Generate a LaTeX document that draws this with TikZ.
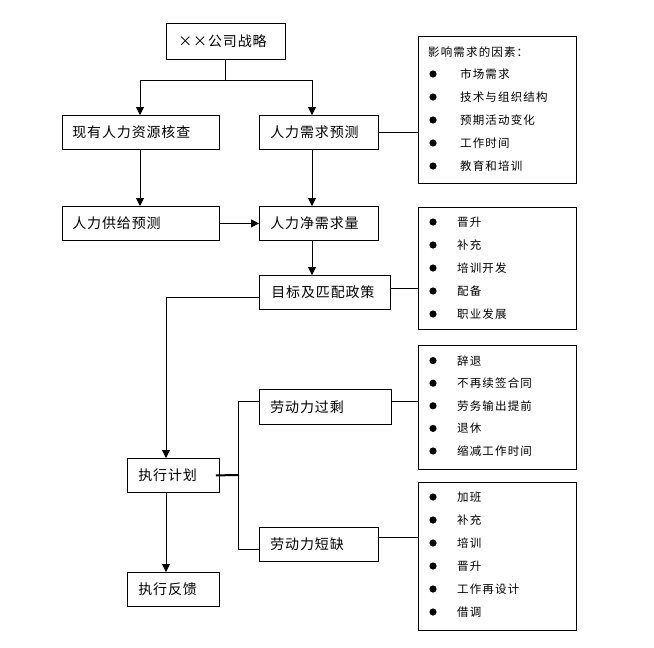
\documentclass[tikz,border=0pt]{standalone}
\usepackage{fontspec}
\setmainfont{Noto Sans CJK SC}
\usetikzlibrary{arrows.meta}
\tikzset{
  every node/.style={font=\fontsize{14}{16}\selectfont\addfontfeatures{LetterSpace=6}},
  box/.style={draw, line width=0.8pt, anchor=north west, inner xsep=10pt, inner ysep=0pt, minimum height=34pt, align=left},
  listbox/.style={draw, line width=0.8pt, anchor=north west, inner sep=0pt},
  item/.style={anchor=west, inner sep=0pt, font=\fontsize{11.5}{13}\selectfont\addfontfeatures{LetterSpace=10}},
  conn/.style={line width=0.8pt},
  arr/.style={line width=0.8pt, -{Triangle[width=8pt,length=8pt]}},
  dot/.style={fill=black}
}
\begin{document}
\begin{tikzpicture}[x=1pt,y=-1pt]
\useasboundingbox (0,0) rectangle (654,648);
% main boxes (width = text width + 20)
\node[box, text width=99pt, minimum height=36pt, inner xsep=12pt, text width=95pt] (top) at (166,23) {××公司战略};
\node[box, text width=137pt] (xy) at (62,115) {现有人力资源核查};
\node[box, inner xsep=11pt, text width=97pt] (xq) at (259,115) {人力需求预测};
\node[box, text width=137pt] (gj) at (62,206) {人力供给预测};
\node[box, inner xsep=11pt, text width=97pt] (jx) at (259,206) {人力净需求量};
\node[box, inner xsep=12pt, text width=107pt] (mb) at (259,275) {目标及匹配政策};
\node[box, inner xsep=11pt, text width=110pt, minimum height=35pt] (gs) at (259,389) {劳动力过剩};
\node[box, inner xsep=11pt, text width=70pt] (zx) at (127,458) {执行计划};
\node[box, inner xsep=11pt, text width=97pt] (dq) at (259,527) {劳动力短缺};
\node[box, inner xsep=11pt, text width=70pt] (fk) at (127,572) {执行反馈};
% list boxes
\node[listbox, minimum width=158pt, minimum height=147pt] (L1) at (418,36) {};
\node[listbox, minimum width=158pt, minimum height=122pt] (L2) at (418,207) {};
\node[listbox, minimum width=158pt, minimum height=124pt] (L3) at (418,345) {};
\node[listbox, minimum width=158pt, minimum height=148pt] (L4) at (418,482) {};
\node[item] (h1) at (428,52) {影响需求的因素：};
\foreach \t [count=\i] in {市场需求,技术与组织结构,预期活动变化,工作时间,教育和培训}{
  \fill[dot] (433,{51+23*\i}) circle (3.6);
  \node[item] (a\i) at (460,{51+23*\i}) {\t};
}
\foreach \t [count=\i] in {晋升,补充,培训开发,配备,职业发展}{
  \fill[dot] (433,{199+23*\i}) circle (3.6);
  \node[item] (b\i) at (457,{199+23*\i}) {\t};
}
\foreach \t [count=\i] in {辞退,不再续签合同,劳务输出提前,退休,缩减工作时间}{
  \fill[dot] (433,{338+22.6*\i}) circle (3.6);
  \node[item] (c\i) at (457,{338+22.6*\i}) {\t};
}
\foreach \t [count=\i] in {加班,补充,培训,晋升,工作再设计,借调}{
  \fill[dot] (433,{474+23*\i}) circle (3.6);
  \node[item] (d\i) at (457,{474+23*\i}) {\t};
}
% connectors
\coordinate (s1) at (225,80);
\draw[conn] (top.south -| s1) -- (s1);
\draw[arr] (s1) -| (xy.north -| 140,0);
\draw[arr] (s1) -| (xq.north -| 312,0);
\draw[arr] (xy.south -| 140,0) -- (gj.north -| 140,0);
\draw[arr] (xq.south -| 312,0) -- (jx.north -| 312,0);
\draw[arr] (gj.east) -- (jx.west);
\draw[arr] (jx.south -| 312,0) -- (mb.north -| 312,0);
\draw[conn] (xq.east) -- (xq.east -| L1.west);
\draw[conn] (mb.east |- 0,288) -- (L2.west |- 0,288);
\draw[arr] (mb.west |- 0,297) -| (zx.north -| 166,0);
\draw[arr] (zx.south -| 166,0) -- (fk.north -| 166,0);
\draw[conn] (gs.east |- 0,401) -- (L3.west |- 0,401);
\draw[conn] (dq.east |- 0,537) -- (L4.west |- 0,537);
\draw[line width=2pt] ([xshift=-4pt]zx.east) -- (239,475);
\draw[conn] (gs.west |- 0,401) -| (238.5,549) -- (dq.west |- 0,549);
\end{tikzpicture}
\end{document}
